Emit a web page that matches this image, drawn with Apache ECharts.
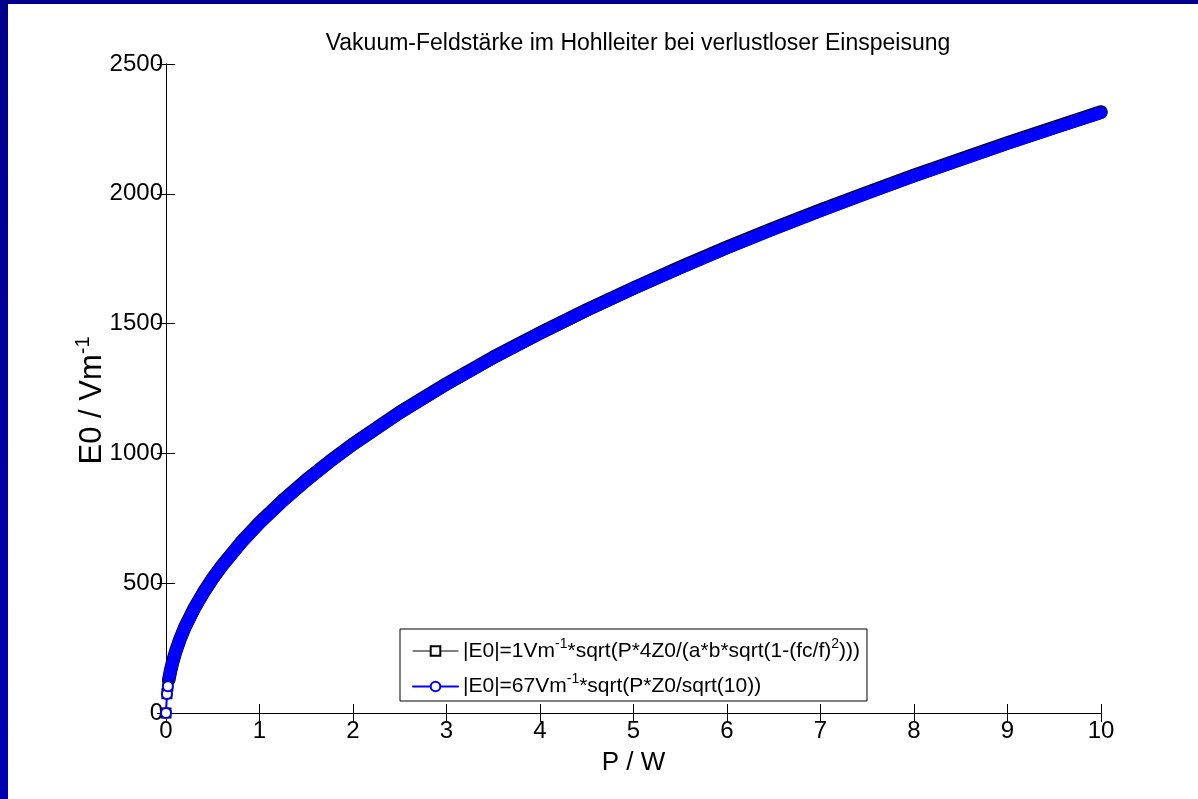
<!DOCTYPE html>
<html>
<head>
<meta charset="utf-8">
<title>Vakuum-Feldstärke im Hohlleiter</title>
<script src="https://cdn.jsdelivr.net/npm/echarts@6/dist/echarts.min.js"></script>
<style>
  html, body { margin: 0; padding: 0; background: #ffffff; }
  #chart { width: 1198px; height: 799px; }
</style>
</head>
<body>
<div id="chart"></div>
<script>
// Input power P / W along the curve (dense band part)
const power = [0.03, 0.04, 0.05, 0.07, 0.1, 0.15, 0.2, 0.3, 0.4, 0.5, 0.6, 0.8,
  1, 1.25, 1.5, 1.75, 2, 2.5, 3, 3.5, 4, 4.5, 5, 5.5, 6, 6.5, 7, 7.5, 8, 8.5, 9, 9.5, 10];
// |E0| / Vm^-1, 67 Vm^-1 * sqrt(P*Z0/sqrt(10)) curve (blue)
const fieldBlue = [127, 146, 164, 193, 231, 283, 327, 400, 462, 517, 566, 654,
  731, 817, 895, 967, 1034, 1156, 1266, 1368, 1462, 1551, 1635, 1714, 1791, 1864, 1934, 2002, 2068, 2131, 2193, 2253, 2312];
// |E0| / Vm^-1, exact waveguide curve (black, lies just above the blue one)
const fieldBlack = [128, 147, 165, 195, 233, 285, 329, 402, 464, 519, 568, 656,
  733, 819, 897, 969, 1036, 1158, 1268, 1370, 1464, 1553, 1637, 1717, 1794, 1867, 1937, 2005, 2071, 2134, 2196, 2256, 2315];
// first individual samples near P = 0 where the markers are still visible
const startPower = [0, 0.01, 0.02];
const startBlue = [0, 73, 103];
const startBlack = [0, 74, 104];

const xTicks = { min: 0, max: 10, interval: 1 };
const yTicks = { min: 0, max: 2500, interval: 500 };

const nameBlack = '|E0|=1Vm-1*sqrt(P*4Z0/(a*b*sqrt(1-(fc/f)2)))';
const nameBlue = '|E0|=67Vm-1*sqrt(P*Z0/sqrt(10))';
const legendLabels = {};
legendLabels[nameBlack] = '{t||E0|=1Vm}{s|-1}{t|*sqrt(P*4Z0/(a*b*sqrt(1-(fc/f)}{s|2}{t|)))}';
legendLabels[nameBlue] = '{t||E0|=67Vm}{s|-1}{t|*sqrt(P*Z0/sqrt(10))}';

const FONT = '"Liberation Sans", Arial, Helvetica, sans-serif';

const pairs = (xs, ys) => xs.map((x, i) => [x, ys[i]]);

const chart = echarts.init(document.getElementById('chart'));

const axisCommon = {
  axisLine: { show: true, lineStyle: { color: '#000', width: 1 } },
  axisTick: { show: true, inside: true, length: 9, lineStyle: { color: '#000', width: 1 } },
  splitLine: { show: false }
};

chart.setOption({
  backgroundColor: '#ffffff',
  animation: false,
  title: {
    text: 'Vakuum-Feldstärke im Hohlleiter bei verlustloser Einspeisung',
    left: 633, top: 27, textAlign: 'center',
    textStyle: { fontFamily: FONT, fontSize: 23, fontWeight: 'normal', color: '#000' }
  },
  graphic: [
    { type: 'rect', left: 0, top: 0, shape: { width: 1198, height: 4 }, style: { fill: '#00008c' }, z: 100 },
    { type: 'rect', left: 0, top: 0, shape: { width: 8, height: 799 },
      style: { fill: new echarts.graphic.LinearGradient(0, 0, 0, 1, [
        { offset: 0, color: '#00008a' }, { offset: 1, color: '#0000b4' }]) }, z: 100 }
  ],
  grid: { left: 166, right: 97, top: 64, bottom: 86, containLabel: false },
  xAxis: [
    Object.assign({
      type: 'value', position: 'bottom', min: xTicks.min, max: xTicks.max, interval: xTicks.interval,
      name: 'P / W', nameLocation: 'middle', nameGap: 37, nameMoveOverlap: false,
      nameTextStyle: { fontFamily: FONT, fontSize: 26, color: '#000' },
      axisLabel: { fontFamily: FONT, fontSize: 24, color: '#000', margin: 6, formatter: v => String(v) }
    }, axisCommon),
    Object.assign({
      type: 'value', position: 'top', min: xTicks.min, max: xTicks.max, interval: xTicks.interval,
      axisLabel: { show: false }
    }, axisCommon)
  ],
  yAxis: [
    Object.assign({
      type: 'value', position: 'left', min: yTicks.min, max: yTicks.max, interval: yTicks.interval,
      name: 'E0 / Vm{s|-1}', nameLocation: 'middle', nameGap: 55, nameMoveOverlap: false,
      nameTextStyle: {
        fontFamily: FONT, fontSize: 31, color: '#000', lineHeight: 38,
        padding: [0, 24, 0, 0],
        rich: { s: { fontFamily: FONT, fontSize: 20, lineHeight: 13, verticalAlign: 'top', color: '#000' } }
      },
      axisLabel: { fontFamily: FONT, fontSize: 24, color: '#000', margin: 3, formatter: v => String(v) }
    }, axisCommon),
    Object.assign({
      type: 'value', position: 'right', min: yTicks.min, max: yTicks.max, interval: yTicks.interval,
      axisLabel: { show: false }
    }, axisCommon)
  ],
  legend: {
    left: 400, top: 629, orient: 'vertical',
    itemWidth: 45, itemHeight: 12, itemGap: 11,
    padding: [8, 7, 4, 12],
    borderColor: '#000', borderWidth: 1, backgroundColor: '#fff',
    data: [
      { name: nameBlack, lineStyle: { width: 1, color: '#000' }, itemStyle: { color: '#000', borderWidth: 1 } },
      { name: nameBlue, lineStyle: { width: 2, color: '#0000ff' }, itemStyle: { color: '#0000ff', borderWidth: 2 } }
    ],
    formatter: name => legendLabels[name],
    textStyle: {
      fontFamily: FONT, fontSize: 21, color: '#000',
      rich: {
        t: { fontFamily: FONT, fontSize: 21, lineHeight: 28, color: '#000' },
        s: { fontFamily: FONT, fontSize: 14, lineHeight: 9, verticalAlign: 'top', color: '#000' }
      }
    }
  },
  series: [
    {
      name: nameBlack, type: 'line', symbol: 'emptyRect', showSymbol: false, clip: false,
      data: pairs(power, fieldBlack), color: '#000',
      lineStyle: { color: '#000', width: 13.5, cap: 'round', join: 'round' }
    },
    {
      name: nameBlack, type: 'line', symbol: 'emptyRect', symbolSize: 9, clip: false,
      data: pairs(startPower, startBlack), color: '#000',
      itemStyle: { borderWidth: 1 },
      lineStyle: { color: '#000', width: 1 }
    },
    {
      name: nameBlue, type: 'line', symbol: 'emptyCircle', showSymbol: false, clip: false,
      data: pairs(power, fieldBlue), color: '#0000ff',
      lineStyle: { color: '#0000ff', width: 12.5, cap: 'round', join: 'round' }
    },
    {
      name: nameBlue, type: 'line', symbol: 'emptyCircle', symbolSize: 10, clip: false,
      data: pairs(startPower, startBlue), color: '#0000ff',
      itemStyle: { borderWidth: 2 },
      lineStyle: { color: '#0000ff', width: 2 }
    }
  ]
});
</script>
</body>
</html>
